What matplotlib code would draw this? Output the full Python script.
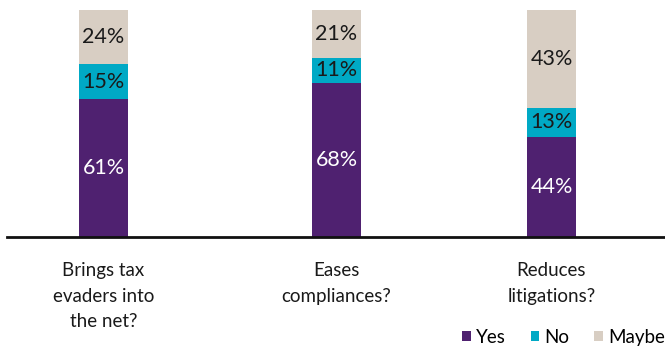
import matplotlib.pyplot as plt
import numpy as np

categories = ["Brings tax\nevaders into\nthe net?", "Eases\ncompliances?", "Reduces\nlitigations?"]
yes = [61, 68, 44]
no = [15, 11, 13]
maybe = [24, 21, 43]

colors = {"Yes": "#4F2170", "No": "#00A9C5", "Maybe": "#D8CEC3"}
pos = [103.5, 336.5, 551.5]

plt.rcParams['font.family'] = ['Lato', 'DejaVu Sans']

fig = plt.figure(figsize=(6.65, 3.47), dpi=100)
ax = fig.add_axes([7/665, 110/347, 658/665, 227/347])

yes_a, no_a, maybe_a = np.array(yes), np.array(no), np.array(maybe)
w = 49
ax.bar(pos, yes_a, width=w, color=colors["Yes"], label="Yes")
ax.bar(pos, no_a, width=w, bottom=yes_a, color=colors["No"], label="No")
ax.bar(pos, maybe_a, width=w, bottom=yes_a + no_a, color=colors["Maybe"], label="Maybe")

for i, x in enumerate(pos):
    ax.text(x, yes[i] / 2, f"{yes[i]}%", ha="center", va="center", color="white", fontsize=15.5)
    ax.text(x, yes[i] + no[i] / 2, f"{no[i]}%", ha="center", va="center", color="#1a1a1a", fontsize=15.5)
    ax.text(x, yes[i] + no[i] + maybe[i] / 2, f"{maybe[i]}%", ha="center", va="center", color="#1a1a1a", fontsize=15.5)

ax.set_xlim(7, 665)
ax.set_ylim(0, 100)
ax.set_yticks([])
ax.set_xticks(pos)
ax.set_xticklabels(categories, fontsize=13.5, linespacing=1.62, color="#1a1a1a")
ax.tick_params(axis="x", length=0, pad=18)
for s in ["top", "right", "left"]:
    ax.spines[s].set_visible(False)
ax.spines["bottom"].set_linewidth(2)
ax.spines["bottom"].set_color("#111111")

ax.legend(loc="lower right", bbox_to_anchor=(1.0, -0.48), ncol=3, frameon=False,
          fontsize=13.5, handlelength=0.45, handleheight=0.45, handletextpad=0.3,
          columnspacing=1.3, borderaxespad=0, borderpad=0)

plt.savefig("out.png", dpi=100)
